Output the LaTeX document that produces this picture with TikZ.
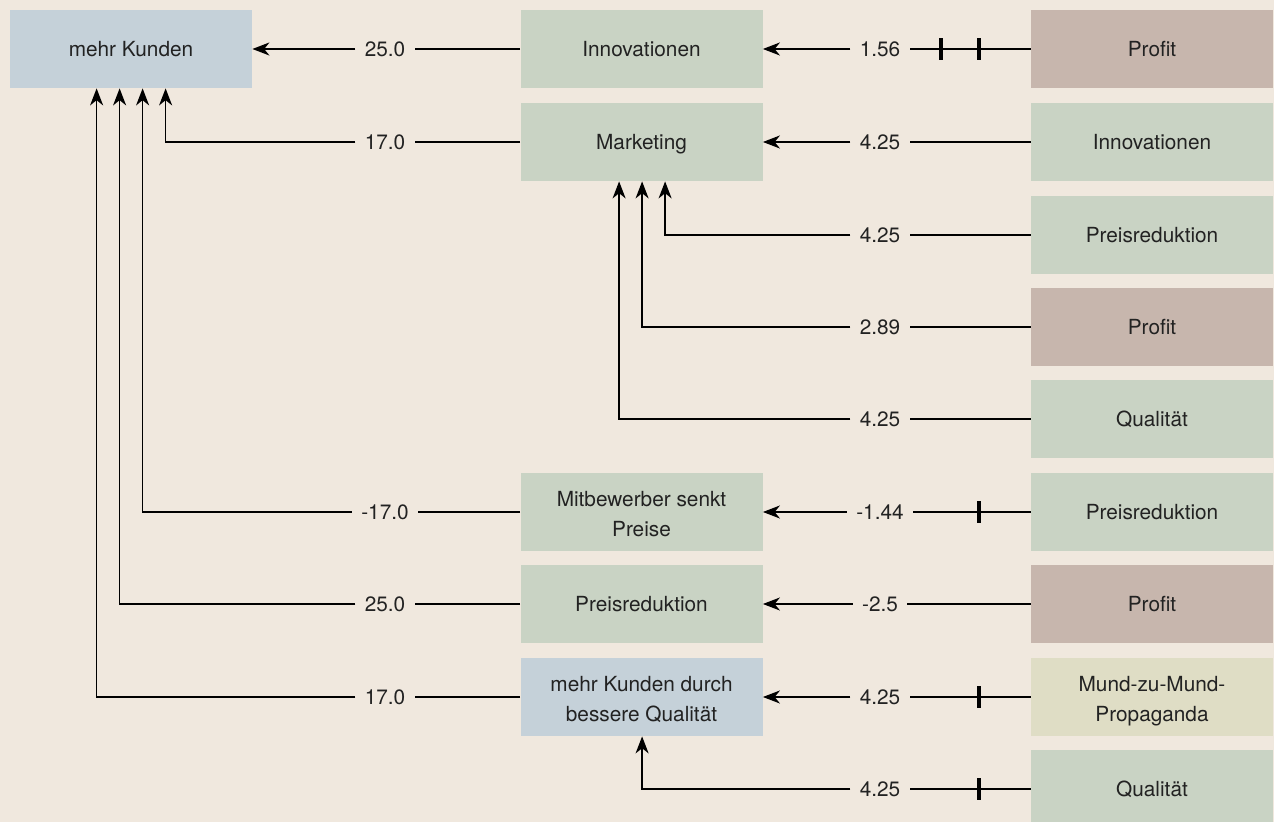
\documentclass[tikz,border=0pt]{standalone}
\usepackage{fontspec}
\setmainfont{TeX Gyre Heros}
\usetikzlibrary{arrows.meta,calc}

\definecolor{bgbeige}{HTML}{F0E8DE}
\definecolor{boxblue}{HTML}{C5D1D9}
\definecolor{boxgreen}{HTML}{C9D3C4}
\definecolor{boxrose}{HTML}{C7B6AD}
\definecolor{boxsand}{HTML}{DFDDC5}
\definecolor{textgrey}{HTML}{222222}

\newcommand\boxstrut{\rule[-4pt]{0pt}{15.5pt}}
\newcommand\twolines[2]{\raisebox{-2pt}[\height][\depth]{%
  \begin{tabular}{@{}c@{}}#1\\#2\end{tabular}}}

\tikzset{
  box/.style={minimum width=121pt, minimum height=39pt, inner sep=0pt,
    align=center, text=textgrey, font=\fontsize{10.4}{15}\selectfont,
    execute at begin node=\boxstrut, execute at end node=\boxstrut},
  val/.style={inner xsep=4.5pt, inner ysep=2pt, text=textgrey,
    font=\fontsize{10.4}{12}\selectfont},
  link/.style={line width=0.8pt},
  arr/.style={link, -{Stealth[length=8.5pt,width=6.5pt,inset=2.6pt]}},
  tick/.style={fill=black, minimum width=2pt, minimum height=11pt, inner sep=0pt}
}

\begin{document}
\begin{tikzpicture}[x=0.5pt,y=-0.5pt]

% background
\fill[bgbeige] (0,0) rectangle (1274,822);
\useasboundingbox (0,0) rectangle (1274,822);

% left column
\node[box, fill=boxblue] (mk) at (131,49) {mehr Kunden};

% middle column
\node[box, fill=boxgreen] (inno) at (641.5,49) {Innovationen};
\node[box, fill=boxgreen] (mark) at (641.5,142) {Marketing};
\node[box, fill=boxgreen] (mitb) at (641.5,512) {\twolines{Mitbewerber senkt}{Preise}};
\node[box, fill=boxgreen] (preis) at (641.5,604) {Preisreduktion};
\node[box, fill=boxblue] (mkq) at (641.5,697) {\twolines{mehr Kunden durch}{bessere Qualität}};

% right column
\node[box, fill=boxrose] (rprofA) at (1152,49) {Profit};
\node[box, fill=boxgreen] (rinno) at (1152,142) {Innovationen};
\node[box, fill=boxgreen] (rpreisA) at (1152,235) {Preisreduktion};
\node[box, fill=boxrose] (rprofB) at (1152,327) {Profit};
\node[box, fill=boxgreen] (rqualA) at (1152,419) {Qualität};
\node[box, fill=boxgreen] (rpreisB) at (1152,512) {Preisreduktion};
\node[box, fill=boxrose] (rprofC) at (1152,604) {Profit};
\node[box, fill=boxsand] (rmund) at (1152,697) {\twolines{Mund-zu-Mund-}{Propaganda}};
\node[box, fill=boxgreen] (rqualB) at (1152,789) {Qualität};

% values, left
\node[val] (vA1) at (385,49) {25.0};
\node[val] (vA2) at (385,142) {17.0};
\node[val] (vA6) at (385,512) {-17.0};
\node[val] (vA7) at (385,604) {25.0};
\node[val] (vA8) at (385,697) {17.0};

% values, right
\node[val] (vB1) at (880,49) {1.56};
\node[val] (vB2) at (880,142) {4.25};
\node[val] (vB3) at (880,235) {4.25};
\node[val] (vB4) at (880,327) {2.89};
\node[val] (vB5) at (880,419) {4.25};
\node[val] (vB6) at (880,512) {-1.44};
\node[val] (vB7) at (880,604) {-2.5};
\node[val] (vB8) at (880,697) {4.25};
\node[val] (vB9) at (880,789) {4.25};

% links into mehr Kunden
\draw[link] (inno) -- (vA1);
\draw[arr] (vA1) -- (mk);
\draw[link] (mark) -- (vA2);
\draw[arr] (vA2) -| ($(mk.south west)+(156,0)$);
\draw[link] (mitb) -- (vA6);
\draw[arr] (vA6) -| ($(mk.south west)+(133,0)$);
\draw[link] (preis) -- (vA7);
\draw[arr] (vA7) -| ($(mk.south west)+(110,0)$);
\draw[link] (mkq) -- (vA8);
\draw[arr] (vA8) -| ($(mk.south west)+(87,0)$);

% links into the middle column
\draw[link] (rprofA) -- (vB1);
\draw[arr] (vB1) -- (inno);
\draw[link] (rinno) -- (vB2);
\draw[arr] (vB2) -- (mark);
\draw[link] (rpreisA) -- (vB3);
\draw[arr] (vB3) -| ($(mark.south west)+(145,0)$);
\draw[link] (rprofB) -- (vB4);
\draw[arr] (vB4) -| ($(mark.south west)+(122,0)$);
\draw[link] (rqualA) -- (vB5);
\draw[arr] (vB5) -| ($(mark.south west)+(99,0)$);
\draw[link] (rpreisB) -- (vB6);
\draw[arr] (vB6) -- (mitb);
\draw[link] (rprofC) -- (vB7);
\draw[arr] (vB7) -- (preis);
\draw[link] (rmund) -- (vB8);
\draw[arr] (vB8) -- (mkq);
\draw[link] (rqualB) -- (vB9);
\draw[arr] (vB9) -| ($(mkq.south west)+(122,0)$);

% tick marks
\node[tick] (tA) at (941,49) {};
\node[tick] (tB) at (979,49) {};
\node[tick] (tC) at (979,512) {};
\node[tick] (tD) at (979,697) {};
\node[tick] (tE) at (979,789) {};

\end{tikzpicture}
\end{document}
